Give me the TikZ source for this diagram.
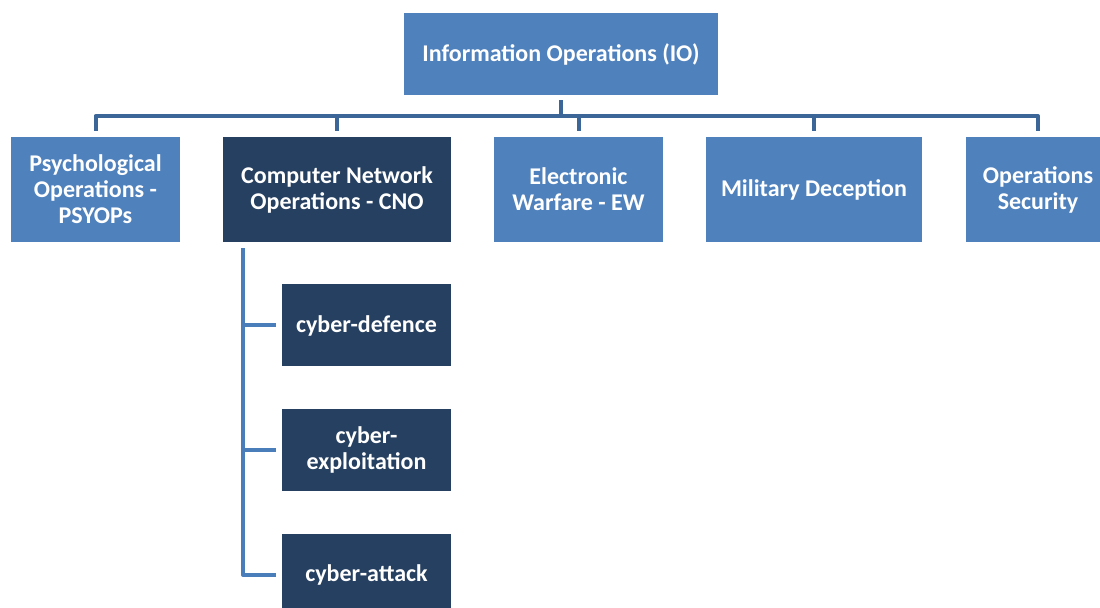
\documentclass[tikz,border=0pt]{standalone}
\usepackage{fontspec}
\setmainfont{Carlito}
\usepackage{tikz}
\usetikzlibrary{positioning,calc}

\definecolor{ioblue}{RGB}{79,129,189}
\definecolor{ionavy}{RGB}{38,64,97}
\definecolor{busline}{RGB}{60,102,152}
\definecolor{subline}{RGB}{74,126,187}

\begin{document}
\begin{tikzpicture}[
		x=0.5pt, y=-0.5pt,
		% Kasten der oberen Ebene
		unit/.style={
			rectangle, fill=ioblue, draw=none,
			minimum height=52.5pt, inner sep=2pt,
			align=center, text=white,
			font=\fontsize{12}{13}\selectfont\bfseries
		},
		% hervorgehobener Kasten (CNO und Unterpunkte)
		darkunit/.style={
			unit, fill=ionavy
		},
		% Verbindungslinien
		bus/.style={
			draw=busline, line width=2pt, line join=round
		},
		branch/.style={
			draw=subline, line width=2pt, line join=round
		}
		]
		
		\useasboundingbox (0,0) rectangle (1100,608);
		
		% --- Wurzel ---
		\node[unit, minimum width=157pt, minimum height=41pt] (io) at (561,54) {Information Operations (IO)};
		
		% --- Ebene 1 ---
		\node[unit, minimum width=84.5pt] (psy) at (95.5,189.5) {Psychological\\Operations -\\PSYOPs};
		\node[darkunit, minimum width=114pt] (cno) at (337,189.5) {Computer Network\\Operations - CNO};
		\node[unit, minimum width=84.5pt] (ew) at (578.5,189.5) {Electronic\\Warfare - EW};
		\node[unit, minimum width=108pt] (md) at (814,189.5) {Military Deception};
		\node[unit, minimum width=72pt] (os) at (1038,189.5) {Operations\\Security};
		
		% --- Ebene 2 (unter CNO) ---
		\node[darkunit, minimum width=84.5pt, minimum height=41pt] (cd) at (366.5,325.5) {cyber-defence};
		\node[darkunit, minimum width=84.5pt, minimum height=41pt] (ce) at (366.5,450) {cyber-\\exploitation};
		\node[darkunit, minimum width=84.5pt, minimum height=41pt] (ca) at (366.5,575) {cyber-attack};
		
		% Sammelschiene
		\coordinate (rail) at (561,116);
		\draw[bus, shorten <=2.5pt] (io.south) -- (rail);
		\draw[bus, shorten <=3pt, shorten >=3pt] (psy.north) -- (psy.north |- rail) -- (os.north |- rail) -- (os.north);
		\foreach \n in {cno,ew,md}
			\draw[bus, shorten >=3pt] (\n.north |- rail) -- (\n.north);
		
		% Zweige unter CNO
		\coordinate (spine) at (243,0);
		\draw[branch, shorten <=3pt, shorten >=3pt] (cno.south -| spine) -- (ca.west -| spine) -- (ca.west);
		\foreach \n in {cd,ce}
			\draw[branch, shorten >=3pt] (\n.west -| spine) -- (\n.west);
		
	\end{tikzpicture}
\end{document}
